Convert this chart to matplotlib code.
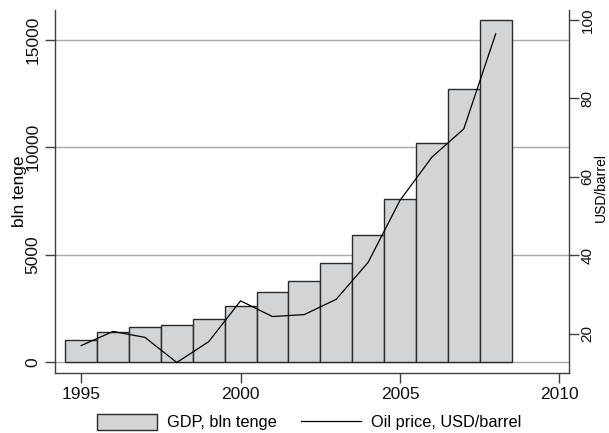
import numpy as np
import matplotlib.pyplot as plt
from matplotlib.patches import Patch
from matplotlib.lines import Line2D

plt.rcParams['font.family'] = ['Liberation Sans', 'DejaVu Sans']

years = np.arange(1995, 2009)
gdp = [1014, 1400, 1645, 1736, 2005, 2595, 3255, 3770, 4595, 5895, 7575, 10205, 12720, 15915]
oil = [17.0, 20.6, 19.1, 12.7, 18.0, 28.4, 24.4, 24.9, 28.8, 38.2, 54.0, 65.0, 72.2, 96.4]

fs = 12.5
fig = plt.figure(figsize=(6.09, 4.33), dpi=100)
ax = fig.add_axes([0.0903, 0.1393, 0.8435, 0.8377])
ax2 = ax.twinx()

grid_c = '#a8a8a8'
spine_c = '#404040'

ax.bar(years, gdp, width=1.0, color='#d3d4d6', edgecolor='#2a2a2a', linewidth=1.0, zorder=2)
for v in [0, 5000, 10000, 15000]:
    ax.axhline(v, color=grid_c, linewidth=1.0, zorder=1)

ax2.plot(years, oil, color='black', linewidth=0.9)

ax.set_xlim(1994.18, 2010.29)
ax.set_ylim(-498, 16380)
ax2.set_ylim(10.1, 102.5)

ax.set_xticks([1995, 2000, 2005, 2010])
ax.set_yticks([0, 5000, 10000, 15000])
ax2.set_yticks([20, 40, 60, 80, 100])

for a in (ax, ax2):
    a.spines['top'].set_visible(False)
    for s in ('left', 'right', 'bottom'):
        a.spines[s].set_color(spine_c)
        a.spines[s].set_linewidth(1.0)
    a.tick_params(length=7, width=1.0, color=spine_c, labelsize=fs, labelcolor='#111111')
ax2.tick_params(pad=1.5, labelsize=11)

ax.spines['right'].set_visible(False)
ax2.spines['left'].set_visible(False)
ax2.spines['bottom'].set_visible(False)

for lab in ax.get_yticklabels() + ax2.get_yticklabels():
    lab.set_rotation(90)
    lab.set_va('center')

ax.set_ylabel('bln tenge', fontsize=fs)
ax.yaxis.set_label_coords(-0.069, 0.5)
ax.yaxis.label.set_va('center')
ax2.set_ylabel('USD/barrel', fontsize=10)
ax2.yaxis.set_label_coords(1.0635, 0.51)
ax2.yaxis.label.set_va('center')

handles = [Patch(facecolor='#d3d4d6', edgecolor='#2a2a2a', linewidth=1.0),
           Line2D([0], [0], color='black', linewidth=0.9)]
fig.legend(handles, ['GDP, bln tenge', 'Oil price, USD/barrel'],
           loc='center', bbox_to_anchor=(0.508, 0.025), ncol=2, frameon=False,
           fontsize=11.8, handlelength=3.66, handleheight=1.1, columnspacing=1.5,
           handletextpad=0.6, borderpad=0.1)

fig.savefig('out.png', dpi=100)
